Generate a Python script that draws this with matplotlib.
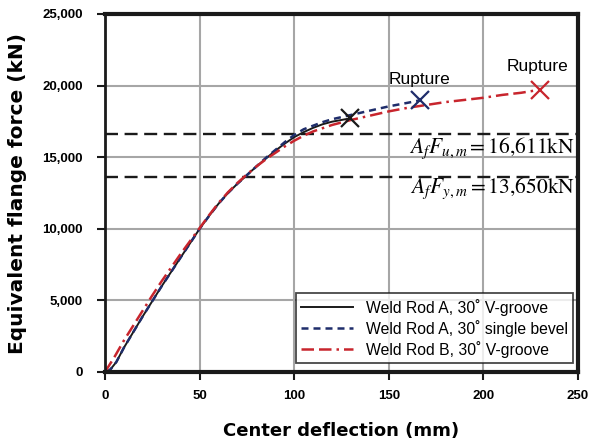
import matplotlib
matplotlib.use("Agg")
import matplotlib.pyplot as plt
import matplotlib.ticker as mticker

# Data
black_x = [1, 3, 6, 10, 15, 20, 25, 30, 35, 40, 45, 50, 55, 60, 65, 70, 75, 80, 85, 90, 95, 100, 105, 110, 115, 120, 125, 129.4]
black_y = [0, 200, 700, 1700, 2800, 3900, 4950, 6000, 7000, 8000, 9000, 10000, 10900, 11750, 12500, 13150, 13750, 14350, 14900, 15450, 15950, 16400, 16750, 17050, 17300, 17480, 17600, 17710]

blue_x = [1, 3, 6, 10, 15, 20, 25, 30, 35, 40, 45, 50, 55, 60, 65, 70, 75, 80, 85, 90, 95, 100, 105, 110, 115, 120, 130, 140, 150, 160, 166.4]
blue_y = [0, 200, 700, 1700, 2800, 3900, 4950, 6000, 7000, 8000, 9000, 10000, 10900, 11750, 12500, 13150, 13750, 14350, 14950, 15500, 16050, 16550, 16950, 17200, 17450, 17650, 17950, 18250, 18550, 18800, 18970]

red_x = [0, 5, 10, 15, 20, 25, 30, 35, 40, 45, 50, 55, 60, 65, 70, 75, 80, 85, 90, 95, 100, 105, 110, 120, 130, 140, 150, 160, 170, 180, 190, 200, 210, 220, 229.8]
red_y = [0, 1050, 2200, 3250, 4300, 5350, 6350, 7300, 8250, 9150, 10050, 10950, 11800, 12550, 13200, 13800, 14350, 14850, 15300, 15750, 16150, 16500, 16800, 17250, 17600, 17900, 18200, 18450, 18650, 18850, 19000, 19150, 19350, 19500, 19710]

rupture_x = [129.4, 166.4, 229.8]
rupture_y = [17710, 18970, 19710]

fu_level = 16611
fy_level = 13650

labels = ["Weld Rod A, 30˚ V-groove", "Weld Rod A, 30˚ single bevel", "Weld Rod B, 30˚ V-groove"]
xticks = [0, 50, 100, 150, 200, 250]
yticks = [0, 5000, 10000, 15000, 20000, 25000]

black_c = "#1a1a1a"
blue_c = "#1f2d6b"
red_c = "#c8252d"
grid_c = "#a6a6a6"

plt.rcParams['mathtext.fontset'] = 'stix'

fig = plt.figure(figsize=(5.92, 4.41), dpi=100)
ax = fig.add_axes([105/592, 1-372/441, (578-105)/592, (372-14)/441])

ax.set_xlim(0, 250)
ax.set_ylim(0, 25000)
ax.set_xticks(xticks)
ax.set_yticks(yticks)
ax.yaxis.set_minor_locator(mticker.FixedLocator([fy_level, fu_level]))
ax.grid(True, which='major', color=grid_c, linewidth=1.5)
ax.set_axisbelow(True)

ax.spines["left"].set_linewidth(2)
for s in ["bottom", "right", "top"]:
    ax.spines[s].set_linewidth(3)
for s in ax.spines.values():
    s.set_color(black_c)

ax.axhline(fu_level, color=black_c, linewidth=1.7, dashes=(5.5, 2.8))
ax.axhline(fy_level, color=black_c, linewidth=1.7, dashes=(5.5, 2.8))

ax.plot(black_x, black_y, color=black_c, linewidth=1.4, label=labels[0])
ax.plot(blue_x, blue_y, color=blue_c, linewidth=1.8, dashes=(2.8, 2), label=labels[1])
ax.plot(red_x, red_y, color=red_c, linewidth=1.8, dashes=(5, 2, 5, 2, 1, 2), label=labels[2])

cols = [black_c, blue_c, red_c]
for xv, yv, c in zip(rupture_x, rupture_y, cols):
    ax.plot([xv], [yv], marker='x', markersize=13, markeredgewidth=1.6, color=c, linestyle='none')

ax.text(166.4, 20450, "Rupture", ha='center', va='center', fontsize=12.5, family='Liberation Sans')
ax.text(228.5, 21300, "Rupture", ha='center', va='center', fontsize=12.5, family='Liberation Sans')

ax.text(248.5, 15650, r"$A_fF_{u,m}=16{,}611\mathrm{kN}$", ha='right', va='center', fontsize=15.5)
ax.text(248.5, 12800, r"$A_fF_{y,m}=13{,}650\mathrm{kN}$", ha='right', va='center', fontsize=15.5)

ax.xaxis.set_major_formatter(mticker.FuncFormatter(lambda v, p: f"{int(v)}"))
ax.yaxis.set_major_formatter(mticker.FuncFormatter(lambda v, p: f"{int(v):,}"))
ax.tick_params(axis='both', which='major', direction='out', length=6, width=1.5, color=black_c, labelsize=9.5)
ax.tick_params(axis='y', which='minor', direction='in', length=5, width=1.3, color=black_c)
for lab in ax.get_xticklabels() + ax.get_yticklabels():
    lab.set_fontfamily('Liberation Sans')
    lab.set_fontweight('bold')
ax.tick_params(axis='x', which='major', pad=7)
ax.tick_params(axis='y', which='major', pad=10)

ax.set_xlabel("Center deflection (mm)", fontsize=13, fontweight='bold', family='DejaVu Sans', labelpad=14)
ax.set_ylabel("Equivalent flange force (kN)", fontsize=14.5, fontweight='bold', family='DejaVu Sans', labelpad=11)

leg = ax.legend(loc='lower right', bbox_to_anchor=(0.99, 0.025), frameon=True, fancybox=False,
                edgecolor=black_c, prop={'family': 'Liberation Sans', 'size': 11.3},
                handlelength=3.3, borderpad=0.35, labelspacing=0.25, borderaxespad=0)
leg.get_frame().set_linewidth(1.3)

fig.savefig("out.png", dpi=100)
